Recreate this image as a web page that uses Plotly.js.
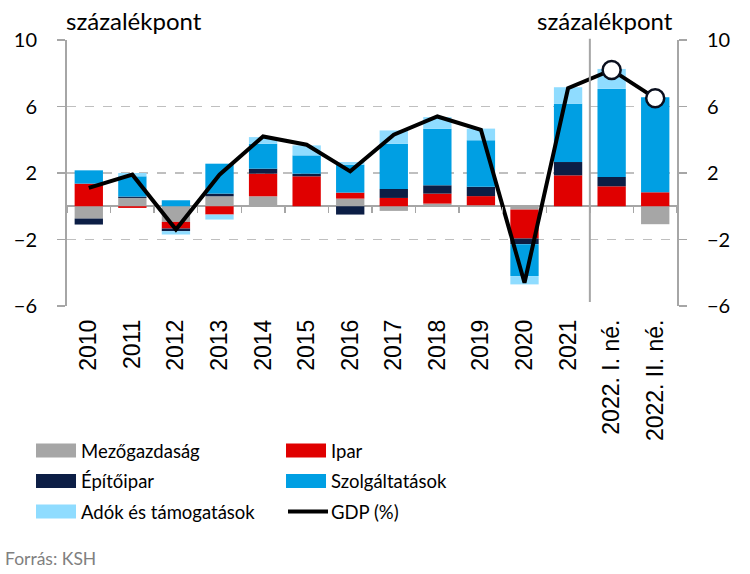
<!DOCTYPE html>
<html>
<head>
<meta charset="utf-8">
<script src="https://cdn.plot.ly/plotly-3.0.1.min.js"></script>
<style>html,body{margin:0;padding:0;background:#fff;} #chart{width:750px;height:574px;}</style>
</head>
<body>
<div id="chart"></div>
<script>
// ---- data ----
var categories = ['2010','2011','2012','2013','2014','2015','2016','2017','2018','2019','2020','2021','2022. I. né.','2022. II. né.'];
var mezogazdasag   = [-0.74, 0.5, -0.94, 0.6, 0.6, 0, 0.46, -0.28, 0.16, 0.06, -0.2, 0, 0, -1.08];
var ipar           = [1.36, -0.1, -0.4, -0.5, 1.36, 1.8, 0.36, 0.5, 0.6, 0.55, -1.74, 1.86, 1.2, 0.84];
var epitoipar      = [-0.36, 0.08, -0.16, 0.16, 0.3, 0.16, -0.5, 0.54, 0.5, 0.56, -0.34, 0.8, 0.56, 0];
var szolgaltatasok = [0.8, 1.22, 0.36, 1.8, 1.5, 1.1, 1.68, 2.72, 3.4, 2.8, -1.92, 3.5, 5.3, 5.72];
var adok           = [0, 0.2, -0.2, -0.3, 0.4, 0.6, 0.16, 0.8, 0.7, 0.7, -0.5, 1.0, 1.2, 0];
var gdp            = [1.1, 1.9, -1.4, 1.9, 4.2, 3.7, 2.1, 4.3, 5.4, 4.6, -4.6, 7.1, 8.2, 6.5];
var yTicks = [-6, -2, 2, 6, 10];
var seriesNames = ['Mezőgazdaság','Ipar','Építőipar','Szolgáltatások','Adók és támogatások','GDP (%)'];
var colors = ['#A6A6A6','#E00000','#0C1E45','#009FE3','#8FDCFF'];
var yUnit = 'százalékpont';
var source = 'Forrás: KSH';
var firstQuarterIdx = 12; // index of first 2022 category (separator)

var F = 'Lato, "Open Sans", sans-serif';
var seriesData = [mezogazdasag, ipar, epitoipar, szolgaltatasok, adok];
var traces = seriesData.map(function(vals, i){
  return {type:'bar', name:seriesNames[i], x:categories, y:vals,
    marker:{color:colors[i], line:{width:0}}, hoverinfo:'x+y+name'};
});
traces.push({type:'scatter', mode:'lines', name:seriesNames[5], x:categories, y:gdp,
  line:{color:'#000', width:4}});
traces.push({type:'scatter', mode:'markers', showlegend:false, x:categories.slice(firstQuarterIdx), y:gdp.slice(firstQuarterIdx),
  marker:{color:'#fff', size:18, line:{color:'#0A0F1E', width:2.5}}});
var n = categories.length;
var bounds = [];
for (var i = 0; i <= n; i++) bounds.push(i - 0.5);
traces.push({type:'scatter', x:[], y:[], xaxis:'x2', yaxis:'y', showlegend:false, hoverinfo:'skip'});
traces.push({type:'scatter', x:[], y:[], xaxis:'x', yaxis:'y2', showlegend:false, hoverinfo:'skip'});

var yr = [-6, 10];
var layout = {
  width:750, height:574,
  margin:{l:67, r:73, t:40, b:268},
  paper_bgcolor:'#fff', plot_bgcolor:'#fff',
  barmode:'relative', bargap:0.35,
  font:{family:F, color:'#000'},
  showlegend:true,
  legend:{orientation:'h', x:-0.059, xanchor:'left', y:-0.474, yanchor:'top', bgcolor:'rgba(0,0,0,0)',
    entrywidth:195, entrywidthmode:'pixels', itemwidth:40, tracegroupgap:0,
    font:{family:F, size:18.5, color:'#000'}, traceorder:'normal'},
  xaxis:{type:'category', range:[-0.5, n-0.5], tickangle:-90, showgrid:false, showline:false, ticks:'',
    zeroline:false, tickfont:{family:'"Liberation Sans", Arial, sans-serif', size:23, color:'#000'}, ticklabelstandoff:8},
  xaxis2:{overlaying:'x', anchor:'free', position:(0-yr[0])/(yr[1]-yr[0]), range:[-0.5, n-0.5],
    tickvals:bounds, ticks:'outside', ticklen:6, tickwidth:1.5, tickcolor:'#A6A6A6', showticklabels:false,
    showgrid:false, zeroline:false, showline:false},
  yaxis:{range:yr, tickvals:yTicks, ticks:'outside', ticklen:8, tickwidth:1.5, tickcolor:'#A6A6A6',
    showline:true, linecolor:'#A6A6A6', linewidth:2, showgrid:true, gridcolor:'#BFBFBF', griddash:'dash', gridwidth:1.5,
    zeroline:true, zerolinecolor:'#A6A6A6', zerolinewidth:2, tickfont:{family:F, size:20, color:'#000'}, ticklabelstandoff:16},
  yaxis2:{overlaying:'y', side:'right', anchor:'x', range:yr, tickvals:yTicks, ticks:'outside', ticklen:8, tickwidth:1.5,
    tickcolor:'#A6A6A6', showline:true, linecolor:'#A6A6A6', linewidth:2, showgrid:false, zeroline:false,
    tickfont:{family:F, size:20, color:'#000'}, ticklabelstandoff:16},
  shapes:[{type:'line', xref:'x', yref:'paper', x0:firstQuarterIdx-0.5, x1:firstQuarterIdx-0.5, y0:0.015, y1:1.005,
    line:{color:'#A6A6A6', width:2}}],
  annotations:[
    {text:yUnit, xref:'paper', yref:'paper', x:-0.005, y:1.01, xanchor:'left', yanchor:'bottom', showarrow:false,
      font:{family:F, size:24, color:'#000'}},
    {text:yUnit, xref:'paper', yref:'paper', x:0.997, y:1.01, xanchor:'right', yanchor:'bottom', showarrow:false,
      font:{family:F, size:24, color:'#000'}},
    {text:source, xref:'paper', yref:'paper', x:-0.105, y:-0.95, xanchor:'left', yanchor:'middle', showarrow:false,
      font:{family:F, size:17.5, color:'#808080'}}
  ]
};
Plotly.newPlot('chart', traces, layout, {displayModeBar:false, staticPlot:true}).then(function(gd){
  var leg = gd.querySelector('.legend');
  if (!leg) return;
  // remove clipping so respaced rows stay visible
  leg.querySelectorAll('[clip-path]').forEach(function(el){ el.removeAttribute('clip-path'); });
  // widen legend swatches to the reference's long bars
  leg.querySelectorAll('.traces .legendpoints path').forEach(function(p){
    var c = p.getAttribute('class') || '';
    if (c.indexOf('legendundefined') >= 0 || c.indexOf('legendbar') >= 0) p.setAttribute('d', 'M-20,7H20V-7H-20Z');
  });
  leg.querySelectorAll('.traces .legendlines path').forEach(function(p){ p.setAttribute('d', 'M7,0h40'); });
  // respace legend rows
  var items = Array.prototype.slice.call(leg.querySelectorAll('g.traces'));
  var ys = [];
  items.forEach(function(g){
    var m = /translate\(([-\d.]+)[ ,]+([-\d.]+)\)/.exec(g.getAttribute('transform') || '');
    if (m) { g._tx = +m[1]; g._ty = +m[2]; if (ys.indexOf(g._ty) < 0) ys.push(g._ty); }
  });
  ys.sort(function(a,b){return a-b;});
  items.forEach(function(g){
    if (g._ty === undefined) return;
    var k = ys.indexOf(g._ty);
    g.setAttribute('transform', 'translate(' + g._tx + ',' + (ys[0] + k * 30.5) + ')');
  });
});
</script>
</body>
</html>
